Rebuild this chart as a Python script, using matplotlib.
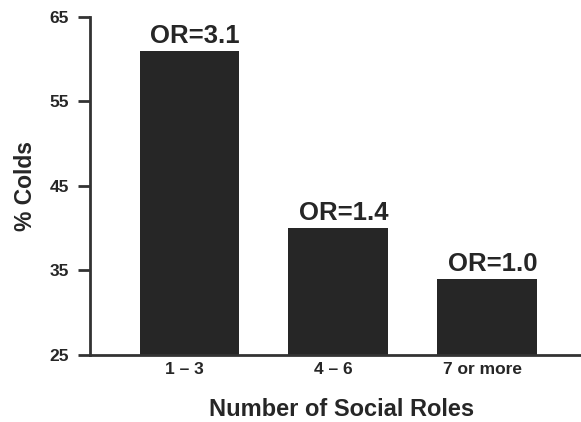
import matplotlib
matplotlib.use("Agg")
import matplotlib.pyplot as plt
from matplotlib.transforms import ScaledTranslation

categories = ["1 – 3", "4 – 6", "7 or more"]
values = [61, 40, 34]
or_labels = ["OR=3.1", "OR=1.4", "OR=1.0"]
yticks = [25, 35, 45, 55, 65]

plt.rcParams['font.family'] = ['Liberation Sans', 'DejaVu Sans']
plt.rcParams['font.weight'] = 'bold'

dark = '#262626'
fig = plt.figure(figsize=(5.81, 4.22), dpi=100)
ax = fig.add_axes([90/581, 1-355/422, 1-90/581, (355-17)/422])

x = list(range(len(categories)))
bars = ax.bar(x, [v - 25 for v in values], bottom=25, width=0.67, color=dark)
for xi, v, lab in zip(x, values, or_labels):
    ax.annotate(lab, (xi, v), xytext=(4, 2), textcoords='offset points',
                ha='center', va='bottom', fontsize=18.5, fontweight='bold', color=dark)

ax.set_ylim(25, 65)
ax.set_xlim(-0.668, 2.63)
ax.set_yticks(yticks)
ax.set_yticklabels([str(t) for t in yticks], fontsize=12.5, fontweight='bold', color=dark)
ax.set_xticks(x)
ax.set_xticklabels(categories, fontsize=12.5, fontweight='bold', color=dark)
ax.tick_params(axis='x', length=0, pad=5)
ax.tick_params(axis='y', length=9, width=2, color='#333333', pad=6)
shift = ScaledTranslation(-5/100, 0, fig.dpi_scale_trans)
for lbl in ax.get_xticklabels():
    lbl.set_transform(lbl.get_transform() + shift)
for s in ['top', 'right']:
    ax.spines[s].set_visible(False)
for s in ['left', 'bottom']:
    ax.spines[s].set_linewidth(2)
    ax.spines[s].set_color('#333333')
ax.set_ylabel('% Colds', fontsize=16.5, fontweight='bold', color=dark, labelpad=9)
ax.set_xlabel('Number of Social Roles', fontsize=17, fontweight='bold', color=dark)
ax.xaxis.set_label_coords((342 - 90) / (581 - 90), 0.0)
ax.xaxis.label.set_va('top')
ax.xaxis.label.set_transform(ax.transAxes + ScaledTranslation(0, -43/100, fig.dpi_scale_trans))
fig.savefig('out.png', dpi=100)
